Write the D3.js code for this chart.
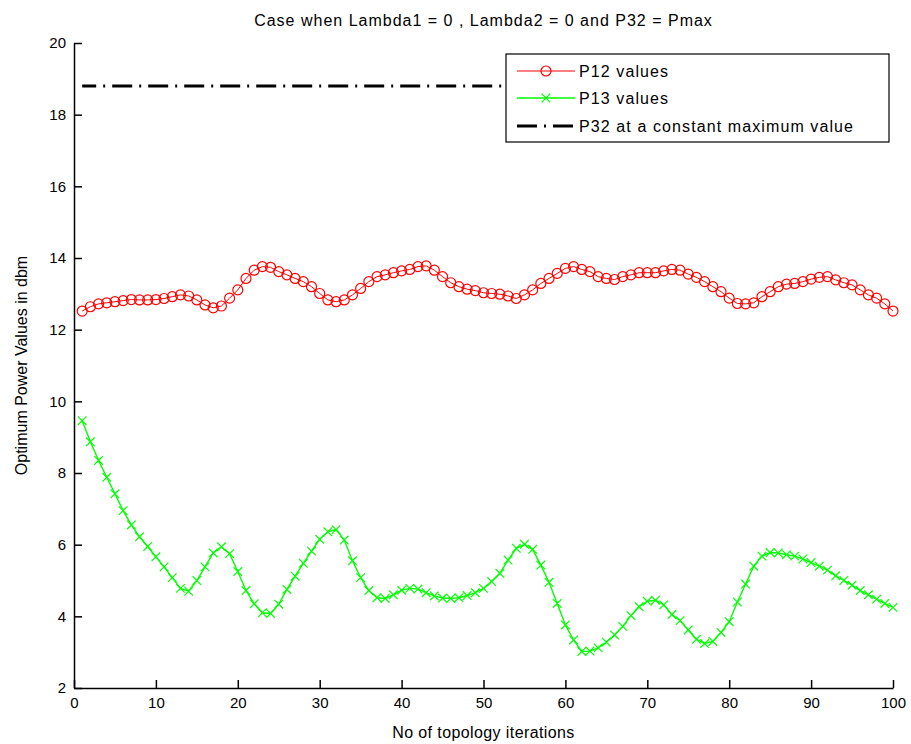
<!DOCTYPE html>
<html>
<head>
<meta charset="utf-8">
<script src="https://cdn.jsdelivr.net/npm/d3@7"></script>
<style>
  html, body { margin: 0; padding: 0; background: #fff; }
  svg { display: block; font-family: "Liberation Sans", Arial, sans-serif; }
</style>
</head>
<body>
<div id="chart"></div>
<script>
// Values (iteration 1..100)
const ITERATIONS = d3.range(1, 101);

const P12 = [
  12.52, 12.64, 12.72, 12.75, 12.78, 12.81, 12.84, 12.83, 12.83, 12.84,
  12.87, 12.92, 12.97, 12.94, 12.83, 12.69, 12.61, 12.66, 12.88, 13.11,
  13.43, 13.66, 13.76, 13.74, 13.62, 13.53, 13.43, 13.34, 13.20, 13.01,
  12.83, 12.78, 12.83, 12.97, 13.15, 13.34, 13.48, 13.53, 13.59, 13.64,
  13.68, 13.76, 13.78, 13.66, 13.48, 13.31, 13.20, 13.13, 13.09, 13.03,
  13.01, 12.99, 12.94, 12.87, 12.97, 13.11, 13.29, 13.43, 13.57, 13.71,
  13.76, 13.68, 13.62, 13.48, 13.43, 13.40, 13.48, 13.53, 13.59, 13.59,
  13.59, 13.64, 13.68, 13.66, 13.55, 13.46, 13.34, 13.20, 13.06, 12.88,
  12.73, 12.72, 12.75, 12.92, 13.06, 13.20, 13.27, 13.29, 13.34, 13.41,
  13.46, 13.48, 13.39, 13.31, 13.25, 13.11, 12.97, 12.88, 12.72, 12.52
];

const P13 = [
  9.46, 8.87, 8.35, 7.88, 7.42, 6.95, 6.55, 6.22, 5.95, 5.66,
  5.38, 5.08, 4.78, 4.70, 5.00, 5.38, 5.77, 5.94, 5.75, 5.25,
  4.72, 4.35, 4.10, 4.08, 4.34, 4.75, 5.12, 5.48, 5.82, 6.15,
  6.36, 6.42, 6.13, 5.55, 5.08, 4.72, 4.52, 4.50, 4.60, 4.73,
  4.78, 4.76, 4.66, 4.57, 4.51, 4.50, 4.52, 4.58, 4.66, 4.78,
  4.97, 5.20, 5.57, 5.90, 6.01, 5.87, 5.43, 4.95, 4.36, 3.76,
  3.34, 3.02, 3.03, 3.12, 3.28, 3.48, 3.72, 4.02, 4.27, 4.42,
  4.45, 4.32, 4.05, 3.88, 3.62, 3.36, 3.24, 3.30, 3.55, 3.85,
  4.40, 4.90, 5.40, 5.68, 5.78, 5.77, 5.72, 5.68, 5.60, 5.50,
  5.40, 5.29, 5.13, 5.00, 4.87, 4.72, 4.60, 4.48, 4.36, 4.25
];

const P32_MAX = 18.8;

const X_TICKS = d3.range(0, 101, 10);
const Y_TICKS = d3.range(2, 21, 2);

const TITLE  = 'Case when Lambda1 = 0 , Lambda2 = 0 and P32 = Pmax';
const XLABEL = 'No of topology iterations';
const YLABEL = 'Optimum Power Values in dbm';
const LEGEND = ['P12 values', 'P13 values', 'P32 at a constant maximum value'];

const W = 911, H = 744;
const margin = { top: 43, right: 18, bottom: 56, left: 74 };
const innerW = W - margin.left - margin.right;
const innerH = H - margin.top - margin.bottom;

const RED = '#ff0000', GREEN = '#00ff00';

const x = d3.scaleLinear().domain([0, 100]).range([0, innerW]);
const y = d3.scaleLinear().domain([2, 20]).range([innerH, 0]);

const svg = d3.select('#chart').append('svg').attr('width', W).attr('height', H);
const g = svg.append('g').attr('transform', `translate(${margin.left},${margin.top})`);

// Axes — matlab style, ticks pointing inward, no box
g.append('g')
  .attr('transform', `translate(0,${innerH})`)
  .call(d3.axisBottom(x).tickValues(X_TICKS).tickSizeInner(-8).tickSizeOuter(0).tickPadding(9))
  .call(ax => ax.selectAll('path, line').attr('stroke', '#000').attr('stroke-width', 1.5))
  .call(ax => ax.selectAll('text').attr('fill', '#000').style('font-size', '15px'));

g.append('g')
  .call(d3.axisLeft(y).tickValues(Y_TICKS).tickSizeInner(-8).tickSizeOuter(0).tickPadding(8))
  .call(ax => ax.selectAll('path, line').attr('stroke', '#000').attr('stroke-width', 1.5))
  .call(ax => ax.selectAll('text').attr('fill', '#000').style('font-size', '15px'));

// Pmax dash-dot line (offset so its tail past the legend falls in a gap)
g.append('line')
  .attr('x1', x(1)).attr('x2', x(100))
  .attr('y1', y(P32_MAX)).attr('y2', y(P32_MAX))
  .attr('stroke', '#000').attr('stroke-width', 3)
  .attr('stroke-dasharray', '20,7,2,7')
  .attr('stroke-dashoffset', 6);

const line = d3.line().x((d, i) => x(ITERATIONS[i])).y(d => y(d));

// P12 series: red line + circles
g.append('path').datum(P12)
  .attr('d', line).attr('fill', 'none').attr('stroke', RED).attr('stroke-width', 1);
g.append('g').selectAll('circle')
  .data(P12)
  .join('circle')
  .attr('cx', (d, i) => x(ITERATIONS[i]))
  .attr('cy', d => y(d))
  .attr('r', 5)
  .attr('fill', 'none').attr('stroke', RED).attr('stroke-width', 1.2);

// P13 series: green line + x markers
const cross = d3.symbol().type(d3.symbolX).size(50);
g.append('path').datum(P13)
  .attr('d', line).attr('fill', 'none').attr('stroke', GREEN).attr('stroke-width', 1.4);
g.append('g').selectAll('path')
  .data(P13)
  .join('path')
  .attr('transform', (d, i) => `translate(${x(ITERATIONS[i])},${y(d)})`)
  .attr('d', cross)
  .attr('fill', 'none').attr('stroke', GREEN).attr('stroke-width', 1.2);

// Labels (matlab text is a bit loosely spaced)
svg.append('text')
  .attr('x', margin.left + innerW / 2).attr('y', 26)
  .attr('text-anchor', 'middle').style('font-size', '16px').style('letter-spacing', '1px')
  .text(TITLE);

svg.append('text')
  .attr('x', margin.left + innerW / 2).attr('y', 738)
  .attr('text-anchor', 'middle').style('font-size', '16px').style('letter-spacing', '0.4px')
  .text(XLABEL);

svg.append('text')
  .attr('transform', 'rotate(-90)')
  .attr('x', -(margin.top + innerH / 2)).attr('y', 27)
  .attr('text-anchor', 'middle').style('font-size', '16px').text(YLABEL);

// Legend
const lg = svg.append('g').attr('transform', 'translate(506,54)');
lg.append('rect').attr('width', 383).attr('height', 88)
  .attr('fill', '#fff').attr('stroke', '#000').attr('stroke-width', 1.2);

const rows = [17, 44, 72];
const styles = [
  { stroke: RED, width: 1, dash: null },
  { stroke: GREEN, width: 1.4, dash: null },
  { stroke: '#000', width: 3, dash: '20,7,2,7' },
];
LEGEND.forEach((label, i) => {
  const ry = rows[i];
  lg.append('line')
    .attr('x1', 11).attr('x2', 69).attr('y1', ry).attr('y2', ry)
    .attr('stroke', styles[i].stroke).attr('stroke-width', styles[i].width)
    .attr('stroke-dasharray', styles[i].dash);
  lg.append('text')
    .attr('x', 73).attr('y', ry + 6)
    .style('font-size', '16px').style('letter-spacing', '1.1px').text(label);
});
lg.append('circle').attr('cx', 40).attr('cy', rows[0]).attr('r', 5)
  .attr('fill', 'none').attr('stroke', RED).attr('stroke-width', 1.2);
lg.append('path').attr('transform', `translate(40,${rows[1]})`).attr('d', cross)
  .attr('fill', 'none').attr('stroke', GREEN).attr('stroke-width', 1.2);
</script>
</body>
</html>
